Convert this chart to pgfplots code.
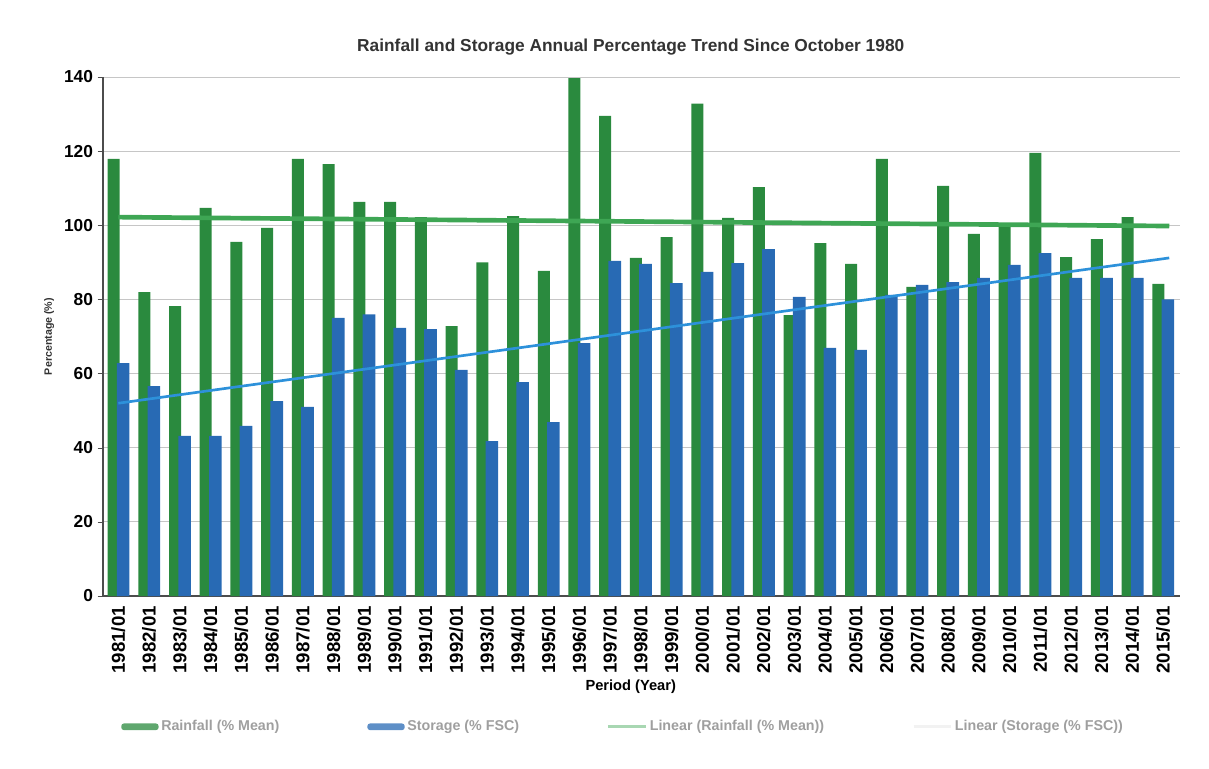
\documentclass[border=0pt]{standalone}
\usepackage{pgfplots}
\pgfplotsset{compat=1.18}
\usepackage{pgfplotstable}
\usepackage{fontspec}
\setmainfont{Liberation Sans}
\definecolor{rain}{RGB}{42,138,62}
\definecolor{stor}{RGB}{40,106,180}
\definecolor{raintrend}{RGB}{62,166,84}
\definecolor{stortrend}{RGB}{45,145,218}

\pgfplotstableread{
x year rain stor
0 1981/01 117.9 62.8
1 1982/01 82.0 56.6
2 1983/01 78.2 43.2
3 1984/01 104.7 43.2
4 1985/01 95.5 45.9
5 1986/01 99.3 52.6
6 1987/01 117.9 51.0
7 1988/01 116.5 75.0
8 1989/01 106.3 76.0
9 1990/01 106.3 72.3
10 1991/01 102.2 72.0
11 1992/01 72.8 61.0
12 1993/01 90.0 41.8
13 1994/01 102.5 57.7
14 1995/01 87.7 46.9
15 1996/01 139.7 68.2
16 1997/01 129.5 90.4
17 1998/01 91.2 89.6
18 1999/01 96.8 84.4
19 2000/01 132.8 87.4
20 2001/01 102.0 89.8
21 2002/01 110.3 93.6
22 2003/01 75.8 80.7
23 2004/01 95.2 66.9
24 2005/01 89.6 66.4
25 2006/01 117.9 81.2
26 2007/01 83.4 83.9
27 2008/01 110.6 84.7
28 2009/01 97.7 85.8
29 2010/01 99.5 89.3
30 2011/01 119.5 92.5
31 2012/01 91.4 85.8
32 2013/01 96.3 85.8
33 2014/01 102.2 85.8
34 2015/01 84.2 80.0
}\data

\begin{document}
\begin{tikzpicture}
\path (-77.25pt,-129pt) rectangle (829.5pt,447pt);
\begin{axis}[
  scale only axis, width=807.75pt, height=389.25pt,
  xmin=-0.5, xmax=34.55, ymin=0, ymax=140,
  axis lines=left, axis line style={-, black!70, line width=0.9pt},
  ytick={0,20,...,140}, ymajorgrids, grid style={gray!45, line width=0.6pt},
  xtick=data, xticklabels from table={\data}{year},
  xtick style={draw=none},
  minor xtick={-0.5,0.5,...,34.5},
  minor x tick style={black!60},
  minor tick length=4pt, major tick length=4pt,
  tick align=outside, tick style={black!70},
  /pgf/number format/assume math mode=true,
  xticklabel style={rotate=90, anchor=east, font=\bfseries\fontsize{14}{15}\selectfont},
  yticklabel style={font=\bfseries\fontsize{13}{14}\selectfont},
  title={Rainfall and Storage Annual Percentage Trend Since October 1980},
  title style={at={(axis description cs:0.49,1)}, anchor=south, yshift=7pt, font=\bfseries\fontsize{13}{14}\selectfont, text=black!80},
  xlabel={Period (Year)},
  xlabel style={at={(axis description cs:0.49,0)}, anchor=center, yshift=-68pt, font=\bfseries\fontsize{11}{12}\selectfont},
  ylabel={Percentage (\%)},
  ylabel style={at={(axis description cs:-0.05,0.5)}, anchor=center, font=\bfseries\fontsize{8}{9}\selectfont, text=black!80},
  legend columns=4,
  legend style={at={(axis description cs:0.013,-0.252)}, anchor=west, draw=none, fill=none,
    font=\bfseries\fontsize{10.7}{11.5}\selectfont, text=gray!75,
    /tikz/column 2/.style={column sep=64pt},
    /tikz/column 4/.style={column sep=64pt},
    /tikz/column 6/.style={column sep=64pt}},
]
\addplot[ybar, bar width=9pt, bar shift=-3.6pt, fill=rain, draw=none,
  legend image code/.code={\fill[rain!75!white, rounded corners=2pt] (0pt,-2.5pt) rectangle (28pt,2.5pt);}]
  table[x=x, y=rain] {\data};
\addlegendentry{Rainfall (\% Mean)}
\addplot[ybar, bar width=9.5pt, bar shift=3.6pt, fill=stor, draw=none,
  legend image code/.code={\fill[stor!75!white, rounded corners=2pt] (0pt,-2.5pt) rectangle (28pt,2.5pt);}]
  table[x=x, y=stor] {\data};
\addlegendentry{Storage (\% FSC)}
\addplot[raintrend, line width=3.5pt, mark=none,
  legend image code/.code={\draw[raintrend!45!white, line width=2pt] (0pt,0pt) -- (28pt,0pt);}]
  coordinates {(0,102.2) (34.2,99.8)};
\addlegendentry{Linear (Rainfall (\% Mean))}
\addplot[stortrend, line width=2pt, mark=none,
  legend image code/.code={\draw[gray!10, line width=2pt] (0pt,0pt) -- (28pt,0pt);}]
  coordinates {(0,52.0) (34.2,91.2)};
\addlegendentry{Linear (Storage (\% FSC))}
\end{axis}
\end{tikzpicture}
\end{document}
